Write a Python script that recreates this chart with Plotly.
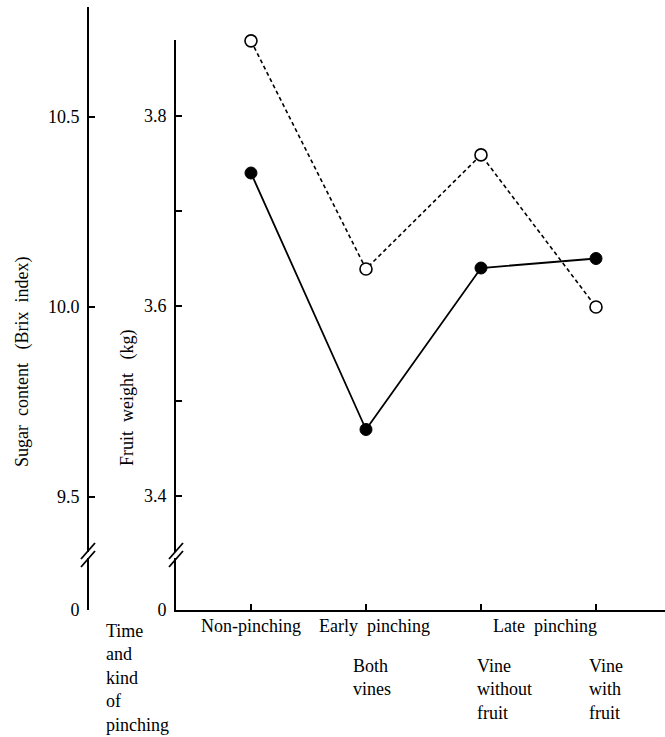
import plotly.graph_objects as go

categories = ["Non-pinching", "Early pinching (both vines)", "Late pinching (vine without fruit)", "Late pinching (vine with fruit)"]
sugar_brix = [10.70, 10.10, 10.40, 10.00]      # open circles, dashed
fruit_weight_kg = [3.74, 3.47, 3.64, 3.65]     # filled circles, solid

weight_tickvals = [3.28, 3.4, 3.5, 3.6, 3.7, 3.8]
weight_ticktext = ["0", "3.4", "", "3.6", "", "3.8"]
sugar_tickvals = [9.203, 9.5, 10.0, 10.5]
sugar_ticktext = ["0", "9.5", "10.0", "10.5"]

FONT = "Liberation Serif"
FS = 18
xpos = list(range(len(categories)))

fig = go.Figure()
fig.add_trace(go.Scatter(
    x=xpos, y=sugar_brix, xaxis="x", yaxis="y2", mode="lines+markers",
    line=dict(color="black", width=1.6, dash="4px,3px"),
    marker=dict(symbol="circle", size=12, color="white", line=dict(color="black", width=1.6)),
    showlegend=False, cliponaxis=False,
))
fig.add_trace(go.Scatter(
    x=xpos, y=fruit_weight_kg, xaxis="x", yaxis="y", mode="lines+markers",
    line=dict(color="black", width=1.8),
    marker=dict(symbol="circle", size=12, color="black", line=dict(color="black", width=1)),
    showlegend=False, cliponaxis=False,
))

x0 = 88 / 577
fig.update_layout(
    width=665, height=737,
    margin=dict(l=88, r=0, t=7, b=127),
    paper_bgcolor="white", plot_bgcolor="rgba(0,0,0,0)",
    font=dict(family=FONT, size=FS, color="black"),
    xaxis=dict(domain=[x0, 1], range=[-0.652, 3.6], anchor="y",
               tickvals=xpos, showticklabels=False, ticks="inside", ticklen=6, tickwidth=2,
               tickcolor="black", showline=True, linecolor="black", linewidth=2,
               showgrid=False, zeroline=False),
    yaxis=dict(domain=[0, 570 / 603], range=[3.28, 3.88], anchor="x",
               tickvals=weight_tickvals, ticktext=weight_ticktext,
               ticks="inside", ticklen=6, tickwidth=2, tickcolor="black",
               showline=True, linecolor="black", linewidth=2, showgrid=False, zeroline=False,
               ticklabelstandoff=4),
    yaxis2=dict(domain=[0, 1], range=[9.203, 10.789], anchor="free", position=0,
                tickvals=sugar_tickvals, ticktext=sugar_ticktext,
                ticks="inside", ticklen=6, tickwidth=2, tickcolor="black",
                showline=True, linecolor="black", linewidth=2, showgrid=False, zeroline=False,
                ticklabelstandoff=4),
)

# axis break marks
ybreak = (610 - 555) / 603
shapes = []
for xa in [0, x0]:
    shapes.append(dict(type="rect", xref="paper", yref="paper", xsizemode="pixel", ysizemode="pixel",
                       xanchor=xa, yanchor=ybreak, x0=-3, x1=3, y0=-3, y1=3,
                       fillcolor="white", line=dict(width=0), layer="above"))
    for off in (4, -4):
        shapes.append(dict(type="line", xref="paper", yref="paper", xsizemode="pixel", ysizemode="pixel",
                           xanchor=xa, yanchor=ybreak, x0=-7, x1=7, y0=off - 8, y1=off + 8,
                           line=dict(color="black", width=1.8), layer="above"))
fig.update_layout(shapes=shapes)

def py(p):
    return (610 - p) / 603

ann = []
ann.append(dict(text="Sugar\u00a0 content\u00a0\u00a0\u00a0(Brix\u00a0 index)", textangle=-90, xref="paper", yref="paper",
                x=(22 - 88) / 577, y=py(362), showarrow=False, xanchor="center", yanchor="middle"))
ann.append(dict(text="Fruit\u00a0 weight\u00a0\u00a0\u00a0(kg)", textangle=-90, xref="paper", yref="paper",
                x=(127 - 88) / 577, y=py(398), showarrow=False, xanchor="center", yanchor="middle"))
ann.append(dict(text="Time<br>and<br>kind<br>of<br>pinching", xref="paper", yref="paper", align="left",
                x=(104 - 88) / 577, y=py(619), showarrow=False, xanchor="left", yanchor="top"))
ann.append(dict(text="Non-pinching", xref="x", yref="paper", x=0, y=py(626), showarrow=False,
                xanchor="center", yanchor="middle"))
ann.append(dict(text="Early\u00a0 pinching", xref="x", yref="paper", x=1.07, y=py(626), showarrow=False,
                xanchor="center", yanchor="middle"))
ann.append(dict(text="Late\u00a0 pinching", xref="x", yref="paper", x=2.56, y=py(626), showarrow=False,
                xanchor="center", yanchor="middle"))
ann.append(dict(text="Both<br>vines", xref="x", yref="paper", x=0.87, y=py(654), showarrow=False,
                xanchor="left", yanchor="top", align="left"))
ann.append(dict(text="Vine<br>without<br>fruit", xref="x", yref="paper", x=1.95, y=py(654), showarrow=False,
                xanchor="left", yanchor="top", align="left"))
ann.append(dict(text="Vine<br>with<br>fruit", xref="x", yref="paper", x=2.92, y=py(654), showarrow=False,
                xanchor="left", yanchor="top", align="left"))
fig.update_layout(annotations=ann)

fig.write_html("out.html", config={"displayModeBar": False},
               post_script="document.body.style.margin='0';")
